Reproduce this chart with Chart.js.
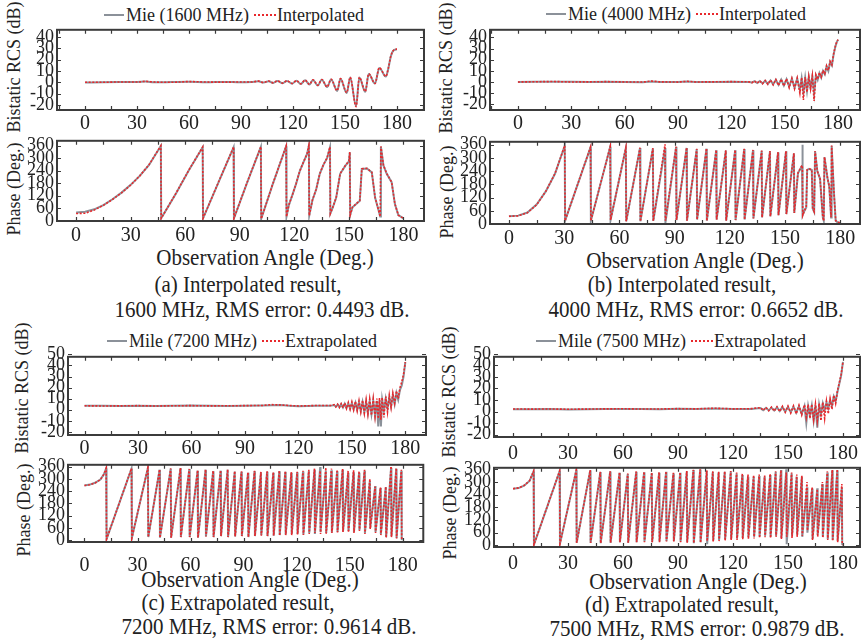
<!DOCTYPE html>
<html>
<head>
<meta charset="utf-8">
<script src="https://cdn.jsdelivr.net/npm/chart.js@4.4.1/dist/chart.umd.min.js"></script>
<style>
html, body { margin: 0; padding: 0; background: #fff; overflow: hidden; }
#fig { position: relative; width: 862px; height: 641px; font-family: 'Liberation Serif', 'Times New Roman', serif; color: #222; }
canvas { position: absolute; }
.txt { position: absolute; white-space: nowrap; font-size: 21px; transform: translate(-50%, -50%) scaleY(1.12); }
.rot { position: absolute; white-space: nowrap; font-size: 18px; transform: translate(-50%, -50%) rotate(-90deg); }
.leg { position: absolute; white-space: nowrap; font-size: 18px; line-height: 22px; display: flex; align-items: center; }
.ln { display: inline-block; height: 0; }
.ln.gray { width: 20px; border-top: 2px solid #8b9199; margin-right: 2px; }
.ln.red { width: 22px; border-top: 2px dotted #e8282c; margin: 0 1px 0 5px; }
</style>
</head>
<body>
<div id="fig">
  <!-- legends -->
  <div class="leg" style="left:104px;top:4px"><span class="ln gray"></span>Mie (1600 MHz)<span class="ln red"></span>Interpolated</div>
  <div class="leg" style="left:546px;top:3px"><span class="ln gray"></span>Mie (4000 MHz)<span class="ln red"></span>Interpolated</div>
  <div class="leg" style="left:107px;top:330px"><span class="ln gray"></span>Mile (7200 MHz)<span class="ln red"></span>Extrapolated</div>
  <div class="leg" style="left:536px;top:330px"><span class="ln gray"></span>Mile (7500 MHz)<span class="ln red"></span>Extrapolated</div>

  <!-- y titles -->
  <div class="rot" style="left:14px;top:67px">Bistatic RCS (dB)</div>
  <div class="rot" style="left:14px;top:189px">Phase (Deg.)</div>
  <div class="rot" style="left:446px;top:68px">Bistatic RCS (dB)</div>
  <div class="rot" style="left:447px;top:192px">Phase (Deg.)</div>
  <div class="rot" style="left:22px;top:388px">Bistatic RCS (dB)</div>
  <div class="rot" style="left:24px;top:510px">Phase (Deg.)</div>
  <div class="rot" style="left:449px;top:392px">Bistatic RCS (dB)</div>
  <div class="rot" style="left:450px;top:513px">Phase (Deg.)</div>

  <!-- x titles -->
  <div class="txt" style="left:265px;top:258px">Observation Angle (Deg.)</div>
  <div class="txt" style="left:695px;top:261px">Observation Angle (Deg.)</div>
  <div class="txt" style="left:250px;top:580px">Observation Angle (Deg.)</div>
  <div class="txt" style="left:698px;top:582px">Observation Angle (Deg.)</div>

  <!-- captions -->
  <div class="txt" style="left:248px;top:285px">(a) Interpolated result,</div>
  <div class="txt" style="left:262px;top:310px">1600 MHz, RMS error: 0.4493 dB.</div>
  <div class="txt" style="left:682px;top:285px">(b) Interpolated result,</div>
  <div class="txt" style="left:696px;top:310px">4000 MHz, RMS error: 0.6652 dB.</div>
  <div class="txt" style="left:238px;top:603px">(c) Extrapolated result,</div>
  <div class="txt" style="left:269px;top:627px">7200 MHz, RMS error: 0.9614 dB.</div>
  <div class="txt" style="left:682px;top:605px">(d) Extrapolated result,</div>
  <div class="txt" style="left:697px;top:629px">7500 MHz, RMS error: 0.9879 dB.</div>
</div>

<script>
// ---------- ticks ----------
const angleTicks = [0, 30, 60, 90, 120, 150, 180];
const rcsTicksAB = [-20, -10, 0, 10, 20, 30, 40];
const rcsTicksCD = [-20, -10, 0, 10, 20, 30, 40, 50];
const phaseTicks = [0, 60, 120, 180, 240, 300, 360];

// ---------- (a) 1600 MHz ----------
const rcsA_angle = [0, 10, 20, 30, 35, 40, 50, 60, 70, 80, 90, 96,
  100, 103, 106, 108.5, 111, 114, 116.5, 119.5, 122, 124.5, 127, 129.5,
  131.5, 134.3, 136.6, 139.7, 142, 145.5, 147.4, 151, 153, 156.4, 158.3, 161.7, 163.7, 167.3, 169.8, 173.6, 175, 176.5, 178.4, 180];
const rcsA_mie = [-0.3, 0, 0.2, 0.3, 0.6, 0, 0.2, 0.4, 0, 0.3, 0, 0.3,
  0.8, -0.3, 0.9, -0.6, 1.1, -0.8, 1.2, -1.2, 1.4, -1.5, 1.8, -2,
  2, -2.8, 2.3, -4.2, 2.5, -7.6, 3, -9.5, 4.2, -21, 4.2, -8.4, 7.3, -1.1, 12.6, 5, 12, 23, 28.5, 29];
const rcsA_interp = [0, 0, 0.3, 0.2, 0.8, 0.2, 0, 0.6, 0.2, 0.1, 0.3, 0.2,
  1, -0.2, 1.1, -0.5, 1.2, -0.7, 1.3, -1, 1.5, -1.3, 1.9, -1.8,
  2.2, -2.5, 2.4, -4, 2.6, -7.4, 3.2, -9, 4.4, -21.5, 4.4, -8, 7.5, -1, 12.8, 5.3, 12.3, 23.3, 28.7, 29.2];

const phaseA_angle = [0, 5, 10, 15, 20, 25, 30, 35, 40, 46.6,
  46.8, 55, 62, 69.6, 69.8, 78, 86.6, 86.8, 94, 101.6, 101.8, 108, 115.5,
  115.7, 117, 119, 121, 123, 125, 127, 128,
  128.2, 130, 132, 134, 136, 138, 139.6,
  139.8, 141, 143, 145.2, 148, 150, 150.5,
  150.7, 152, 154, 156, 157.1, 159.9, 162.6, 164.4, 166.3, 167.2,
  167.6, 169, 170.8, 173.5, 175.3, 177.2, 180];
const phaseA_mie = [40, 43, 55, 75, 103, 135, 172, 215, 266, 358,
  12, 132, 242, 352, 12, 178, 352, 12, 182, 354, 10, 172, 357,
  20, 75, 125, 178, 238, 280, 320, 360,
  25, 100, 150, 225, 268, 300, 352,
  35, 60, 110, 225, 263, 285, 328,
  27, 65, 80, 96, 248, 250, 232, 111, 50, 20,
  355, 265, 225, 185, 80, 27, 12];
const phaseA_interp = [35, 36, 52, 74, 102, 134, 171, 215, 267, 359,
  12, 133, 243, 353, 12, 179, 353, 12, 183, 355, 10, 173, 358,
  20, 76, 126, 179, 239, 281, 321, 361,
  25, 101, 151, 226, 269, 301, 353,
  35, 61, 111, 226, 264, 286, 329,
  27, 66, 81, 97, 249, 251, 233, 112, 51, 20,
  356, 266, 226, 186, 81, 27, 12];

// ---------- (b) 4000 MHz ----------
const rcsB_angle = [0, 10, 20, 30, 40, 50, 60, 70, 75, 80, 90, 95, 100, 110, 120, 130,
  131.5, 133, 134.5, 136, 137.5, 139, 140.5, 142, 143.5, 145, 146.5, 148, 149.5, 151, 152.5, 154, 155.5, 157, 158.5,
  159.5, 160.5, 161.5, 162.5, 163.5, 164.5, 165.5, 166.5, 167.5, 168.5, 169.5, 170.5, 171.5, 172.5, 173.5, 174.5, 175.5, 176.5, 177.5, 178.5,
  179.3, 180];
const rcsB_mie = [0, 0.2, 0.4, 0.2, 0, 0.3, 0, -0.2, 0.6, 0, 0.1, 0.5, 0, 0.1, 0.3, 0,
  -0.4, 0.8, -0.8, 1, -1.2, 1.2, -1.6, 1.5, -2, 2, -2.5, 2.2, -3, 2.5, -4, 3, -5, 3, -7,
  3.5, -9, 4, -8, 4.5, -5, 5, -10, 6, 2, 8, 4, 10, 7, 14, 10, 18, 15, 25, 32,
  36, 38];
const rcsB_interp = [0.1, 0.3, 0.5, 0.1, 0.2, 0.4, 0.1, 0, 0.9, 0.2, 0, 0.7, 0.1, 0.2, 0.4, 0.2,
  -0.6, 1, -1, 1.2, -1.5, 1.4, -2, 1.8, -2.5, 2.3, -3, 2.6, -3.5, 3, -5, 3.3, -6, 3.5, -10,
  4, -16, 4.5, -9, 5, -6, 5.5, -17, 6.5, 2.5, 8.5, 4.5, 10.5, 7.5, 14.5, 10.5, 18.5, 15.5, 25.5, 32.5,
  36.5, 38];

const phaseB_angle = [0, 5, 10, 15, 20, 25, 30.3,
  30.5, 44.3, 44.5, 55, 55.2, 63.5, 63.7, 71.2, 71.4, 78.2, 78.4, 84.8, 85, 90.8,
  91, 96.5, 96.7, 102, 102.2, 107.3, 107.5, 112.6, 112.8, 117.8, 118, 122.9, 123.1, 127.8,
  128, 132.6, 132.8, 137.3, 137.5, 141.8, 142, 146.2, 146.4, 150.5, 150.7, 154.8,
  155, 157, 159.2, 159.4,
  159.6, 160.5, 161.5, 162, 163, 164.5, 165, 165.8, 166.3, 167.5, 169, 170.5, 171, 171.4, 173, 174, 175, 175.3, 176.5, 177.5, 178.5, 180];
const phaseB_mie = [35, 38, 52, 88, 148, 228, 355,
  15, 348, 15, 350, 18, 345, 12, 345, 12, 343, 14, 345, 5, 350,
  18, 345, 15, 340, 20, 342, 15, 335, 20, 333, 15, 335, 18, 340,
  20, 335, 25, 332, 30, 330, 35, 325, 40, 330, 45, 320,
  50, 230, 265, 360,
  40, 60, 75, 245, 250, 245, 70, 55, 330, 240, 205, 30, 15, 303, 210, 170, 30, 355, 150, 15, 8, 5];
const phaseB_interp = [35, 37, 51, 87, 148, 229, 356,
  15, 349, 15, 351, 18, 346, 12, 346, 12, 344, 14, 362, 15, 351,
  18, 346, 15, 341, 20, 343, 15, 336, 20, 334, 15, 336, 18, 341,
  20, 336, 25, 333, 30, 331, 35, 326, 40, 331, 45, 321,
  50, 232, 266, 265,
  40, 61, 76, 246, 251, 246, 71, 56, 331, 241, 206, 31, 15, 304, 211, 171, 31, 356, 151, 15, 8, 5];

// ---------- (c) 7200 MHz ----------
const rcsC_angle = [0, 10, 20, 30, 40, 50, 60, 70, 80, 90, 100, 105, 110, 115, 120, 130, 138,
  140, 141, 142, 143, 144, 145, 146, 147, 148, 149, 150, 151, 152, 153, 154, 155, 156, 157, 158, 159, 160, 161, 162, 163, 164,
  164.8, 165.5, 166.3,
  167, 168, 169, 170, 171, 172, 173, 174, 175, 176, 177, 178, 179, 180];
const rcsC_mie = [3.5, 3.5, 3.4, 3.6, 3.3, 3.5, 3.8, 3.6, 3.4, 3.5, 3.8, 4, 4.2, 3.6, 3.2, 3.6, 3.5,
  4.2, 2.8, 4.6, 2.4, 5, 2, 5.4, 1.6, 5.6, 1, 6, 0.5, 6.2, 0, 6.5, -1, 7, -2, 7, -3, 7.5, -4, 8, -5, 8,
  -15, 8.5, -15,
  9, -1, 10, 1, 11, 3, 13, 5, 15, 9, 18, 22, 30, 43];
const rcsC_ext = [3.6, 3.4, 3.5, 3.7, 3.4, 3.6, 3.7, 3.5, 3.6, 3.7, 3.9, 4.6, 4.3, 3.8, 3.4, 3.8, 3.8,
  4.6, 2.5, 5, 2, 5.5, 1.8, 6, 1, 6.5, 0.5, 7, 0, 7.5, -1, 8, -2, 8.5, -3, 9, -4, 9.5, -5, 10, -6, 10,
  -8, 10.5, -9,
  11, -7, 12, -2, 13, 2, 15, 6, 17, 10, 20, 25, 32, 43];

const phaseC_angle = [0, 3, 6, 9, 11, 12.3,
  12.5, 26.6, 26.8, 35.9, 36.1, 42.5, 42.7, 48.8, 49, 54.3, 54.5, 59.3, 59.5, 64, 64.2, 68.5,
  68.7, 72.8, 73, 77, 77.2, 81, 81.2, 85, 85.2, 88.8, 89, 92.5, 92.7, 96.2, 96.4, 99.8,
  100, 103.3, 103.5, 106.8, 107, 110.2, 110.4, 113.6, 113.8, 117, 117.2, 120.3, 120.5, 123.6,
  123.8, 126.9, 127.1, 130.1, 130.3, 133.3, 133.5, 136.5, 136.7, 139.7, 139.9, 142.9, 143.1, 146,
  146.2, 149.1, 149.3, 152.2, 152.4, 155.3, 155.5, 158.4, 158.6, 161.4, 161.6, 164.4, 164.6, 167.4,
  167.6, 170.4, 170.6, 173.4, 173.6, 176.3, 176.5, 179.2, 179.4, 180];
const phaseC_mie = [268, 272, 281, 297, 322, 352,
  5, 350, 10, 355, 15, 345, 12, 350, 12, 352, 15, 348, 15, 340, 12, 345,
  18, 338, 15, 340, 20, 345, 15, 336, 18, 335, 20, 330, 15, 338, 20, 332,
  25, 335, 20, 330, 22, 338, 25, 335, 28, 330, 30, 332, 30, 336,
  28, 340, 35, 345, 30, 358, 40, 340, 35, 342, 38, 338, 40, 345,
  42, 330, 45, 333, 40, 330, 50, 340, 35, 290, 60, 265, 40, 255,
  30, 260, 15, 355, 20, 350, 10, 340, 5, 3];
const phaseC_ext = [268, 271, 280, 296, 323, 353,
  5, 351, 10, 356, 15, 346, 12, 351, 12, 353, 15, 349, 15, 342, 12, 346,
  18, 340, 15, 342, 20, 346, 15, 338, 18, 337, 20, 332, 15, 340, 20, 334,
  22, 337, 20, 333, 22, 340, 22, 338, 25, 333, 25, 335, 28, 340,
  25, 345, 30, 350, 35, 340, 30, 355, 32, 350, 35, 345, 38, 350,
  40, 340, 38, 342, 35, 338, 45, 345, 30, 300, 55, 262, 35, 258,
  25, 262, 12, 362, 15, 352, 8, 345, 5, 3];

// ---------- (d) 7500 MHz ----------
const rcsD_angle = [0, 10, 20, 30, 40, 50, 60, 70, 80, 90, 100, 110, 120, 130,
  135, 136.5, 138, 139.5, 141, 142.5, 144, 145.5, 147, 148.5, 150, 151.5, 153, 154.5, 156, 157.5,
  159, 160, 161, 162, 163, 164, 165, 166, 167, 168, 169, 170, 171, 172, 173, 174, 175, 176, 177, 178, 179, 180];
const rcsD_mie = [2, 2, 2.1, 1.8, 2, 2.2, 2.3, 2.1, 2, 2.4, 2.2, 2.6, 2.2, 2.3,
  3, 1.2, 3.2, 1, 3.4, 0.8, 3.6, 0.5, 3.8, 0, 4, -0.5, 4.2, -1, 4.5, -2,
  4.8, -10, 5, -3, 5.2, -8, 5.5, -14, 6, -2, 7, 1, 8, 3, 10, 5, 13, 9, 17, 24, 31, 43];
const rcsD_ext = [2.2, 2.1, 2.2, 2, 2.1, 2.3, 2.4, 2.2, 2.2, 2.5, 2.3, 2.9, 2.3, 2.5,
  3.4, 1, 3.6, 0.7, 3.9, 0.4, 4.2, 0, 4.5, -0.6, 4.8, -1.3, 5, -2, 5.4, -3,
  5.8, -5, 6, -6, 6.3, -7, 6.5, -8, 7, -8, 8, -6, 9, -2, 11, 2, 14, 7, 18, 25, 32, 43];

const phaseD_angle = [0, 3, 6, 9, 11.2,
  11.4, 25.4, 25.6, 34.5, 34.7, 42.1, 42.3, 47.6, 47.8, 53, 53.2, 58.1, 58.3, 62.6, 62.8, 67.2,
  67.4, 71.5, 71.7, 75.7, 75.9, 79.7, 79.9, 83.5, 83.7, 87.5, 87.7, 91.2, 91.4, 94.8, 95, 98.4,
  98.6, 102.1, 102.3, 105.7, 105.9, 109, 109.2, 112.2, 112.4, 115.5, 115.7, 118.8, 119, 122,
  122.2, 125.1, 125.3, 128.2, 128.4, 131.3, 131.5, 134.3, 134.5, 137.3, 137.5, 140.3, 140.5, 143.3,
  143.5, 146.2, 146.4, 149.1, 149.3, 152, 152.2, 154.8, 155, 157.6, 157.8, 160.4, 160.6, 163.2,
  163.4, 166, 166.2, 168.8, 169, 171.5, 171.7, 174.2, 174.4, 176.9, 177.1, 179.4, 179.6, 180];
const phaseD_mie = [268, 271, 282, 305, 350,
  3, 351, 8, 355, 12, 355, 12, 347, 10, 350, 12, 343, 15, 338, 12, 348,
  15, 346, 18, 342, 15, 344, 18, 348, 20, 340, 20, 343, 18, 350, 15, 356,
  10, 359, 15, 352, 5, 348, 22, 345, 25, 348, 28, 350, 30, 340,
  32, 333, 35, 325, 38, 325, 40, 328, 42, 325, 45, 333, 40, 348,
  45, 356, 35, 360, 5, 340, 45, 325, 50, 325, 40, 275, 60, 269,
  30, 270, 50, 290, 40, 345, 30, 355, 25, 355, 20, 275, 5, 3];
const phaseD_ext = [268, 272, 283, 306, 351,
  3, 352, 8, 356, 12, 356, 12, 348, 10, 351, 12, 345, 15, 340, 12, 350,
  15, 348, 15, 345, 15, 346, 15, 350, 18, 343, 18, 346, 15, 352, 12, 358,
  10, 360, 12, 355, 20, 350, 18, 348, 20, 350, 22, 352, 25, 345,
  25, 340, 28, 335, 30, 332, 32, 335, 35, 330, 38, 338, 35, 350,
  40, 355, 30, 345, 40, 345, 35, 335, 40, 330, 45, 300, 70, 275,
  25, 265, 40, 300, 35, 350, 25, 358, 20, 360, 15, 290, 5, 3];

// ---------- drawing ----------
const GRAY = '#8b9199';
const RED = '#e8282c';

Chart.defaults.font.family = "'Liberation Serif', 'Times New Roman', serif";
Chart.defaults.color = '#222';

// box frame with inward ticks on all four sides
const framePlugin = {
  id: 'frame',
  afterDatasetsDraw(chart) {
    const { ctx, chartArea: a } = chart;
    const x = chart.scales.x, y = chart.scales.y;
    ctx.save();
    ctx.strokeStyle = '#3b3b3b';
    ctx.lineWidth = 1.2;
    ctx.beginPath();
    for (let v = -15; v <= x.max; v += 15) {
      if (v < x.min) continue;
      const px = Math.round(x.getPixelForValue(v)) + 0.5;
      ctx.moveTo(px, a.bottom); ctx.lineTo(px, a.bottom - 4);
      ctx.moveTo(px, a.top); ctx.lineTo(px, a.top + 4);
    }
    y.ticks.forEach(t => {
      const py = Math.round(y.getPixelForValue(t.value)) + 0.5;
      ctx.moveTo(a.left, py); ctx.lineTo(a.left + 4, py);
      ctx.moveTo(a.right, py); ctx.lineTo(a.right - 4, py);
    });
    ctx.stroke();
    ctx.lineWidth = 2;
    ctx.strokeRect(a.left, a.top, a.right - a.left, a.bottom - a.top);
    ctx.restore();
  }
};

function pts(angles, values) {
  return angles.map((a, i) => ({ x: a, y: values[i] }));
}

function drawPlot(p) {
  const [l, t, r, b] = p.box;
  const cv = document.createElement('canvas');
  cv.width = r - l + 54;
  cv.height = b - t + 50;
  cv.style.left = (l - 50) + 'px';
  cv.style.top = (t - 10) + 'px';
  document.getElementById('fig').appendChild(cv);

  const mode = p.smooth ? 'monotone' : 'default';
  new Chart(cv, {
    type: 'line',
    data: {
      datasets: [
        { data: pts(p.angle, p.red), borderColor: RED, borderWidth: 1.6, borderDash: [2, 1.6],
          pointRadius: 0, fill: false, tension: 0, cubicInterpolationMode: mode },
        { data: pts(p.angle, p.gray), borderColor: GRAY, borderWidth: 2,
          pointRadius: 0, fill: false, tension: 0, cubicInterpolationMode: mode }
      ]
    },
    options: {
      responsive: false,
      animation: false,
      events: [],
      layout: { padding: { top: 10, right: 4, left: 0, bottom: 0 } },
      plugins: { legend: { display: false }, tooltip: { enabled: false } },
      scales: {
        x: {
          type: 'linear', min: p.xr[0], max: p.xr[1],
          grid: { display: false, drawTicks: false }, border: { display: false },
          ticks: { autoSkip: false, maxRotation: 0, padding: p.pad, font: { size: 20 } },
          afterBuildTicks: s => { s.ticks = angleTicks.map(v => ({ value: v })); },
          afterFit: s => { s.height = 40; }
        },
        y: {
          type: 'linear', min: p.yr[0], max: p.yr[1],
          grid: { display: false, drawTicks: false }, border: { display: false },
          ticks: { autoSkip: false, padding: 3, font: { size: 18 } },
          afterBuildTicks: s => { s.ticks = p.yTicks.map(v => ({ value: v })); },
          afterFit: s => { s.width = 50; }
        }
      }
    },
    plugins: [framePlugin]
  });
}

const plots = [
  { box: [57, 26, 424, 110], xr: [-16.2, 195.6], yr: [-24.4, 46.2], yTicks: rcsTicksAB, pad: 2,
    angle: rcsA_angle, gray: rcsA_mie, red: rcsA_interp, smooth: true },
  { box: [57, 137, 424, 221], xr: [-10.5, 191.3], yr: [-1, 383], yTicks: phaseTicks, pad: 3,
    angle: phaseA_angle, gray: phaseA_mie, red: phaseA_interp },
  { box: [490, 26, 860, 110], xr: [-15.7, 192.3], yr: [-25, 46.8], yTicks: rcsTicksAB, pad: 2,
    angle: rcsB_angle, gray: rcsB_mie, red: rcsB_interp },
  { box: [490, 138, 860, 224], xr: [-10.3, 190.7], yr: [0, 373], yTicks: phaseTicks, pad: 3,
    angle: phaseB_angle, gray: phaseB_mie, red: phaseB_interp },
  { box: [68, 353, 426, 435], xr: [-9.3, 191.6], yr: [-22.8, 47.8], yTicks: rcsTicksCD, pad: 2,
    angle: rcsC_angle, gray: rcsC_mie, red: rcsC_ext },
  { box: [68, 461, 426, 542], xr: [-9.3, 191.6], yr: [-9, 369], yTicks: phaseTicks, pad: 12,
    angle: phaseC_angle, gray: phaseC_mie, red: phaseC_ext },
  { box: [494, 353, 860, 437], xr: [-10.4, 189.3], yr: [-22.1, 47.5], yTicks: rcsTicksCD, pad: 5,
    angle: rcsD_angle, gray: rcsD_mie, red: rcsD_ext },
  { box: [494, 464, 860, 547], xr: [-10.4, 189.3], yr: [-8, 367], yTicks: phaseTicks, pad: 5,
    angle: phaseD_angle, gray: phaseD_mie, red: phaseD_ext }
];

plots.forEach(drawPlot);
</script>
</body>
</html>
